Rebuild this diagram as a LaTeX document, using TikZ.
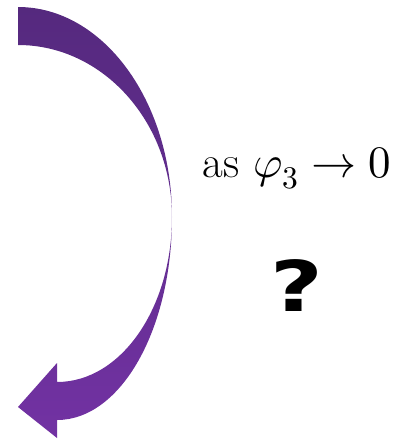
\documentclass[tikz,border=0pt]{standalone}
\usepackage{fontspec}
\usepackage{amsmath}
\usepackage{unicode-math}
\setmathfont{Latin Modern Math}
\usepackage{tikz}
\usetikzlibrary{positioning}
\newfontfamily\qfont{DejaVu Sans}
\definecolor{arrowdark}{HTML}{55297E}
\definecolor{arrowlight}{HTML}{7232A3}

\begin{document}
\begin{tikzpicture}[
    x=1pt, y=-1pt,
    curvearrow/.style={top color=arrowdark, bottom color=arrowlight, draw=none},
    limittext/.style={font=\fontsize{45}{49}\selectfont, inner sep=0pt},
    qmark/.style={font=\qfont\bfseries\fontsize{70}{74}\selectfont, inner sep=0pt, xscale=1.3}
]
\useasboundingbox (0,0) rectangle (399,440);

% Curved arrow, pinched at the middle
\shade[curvearrow] (18,7)
    .. controls (103,7) and (172,101) .. (172,217)
    .. controls (172,329) and (121,420) .. (57,420)
    -- (57,438) -- (18,407) -- (57,363) -- (57,382)
    .. controls (121,382) and (172,308) .. (172,217)
    .. controls (172,122) and (103,45) .. (18,45) -- cycle;

% Limit label
\node[limittext] (limit) at (297,168) {as $\varphi_3 \to 0$};

% Question mark
\node[qmark] (qm) at (297,286) {?};

\end{tikzpicture}
\end{document}
